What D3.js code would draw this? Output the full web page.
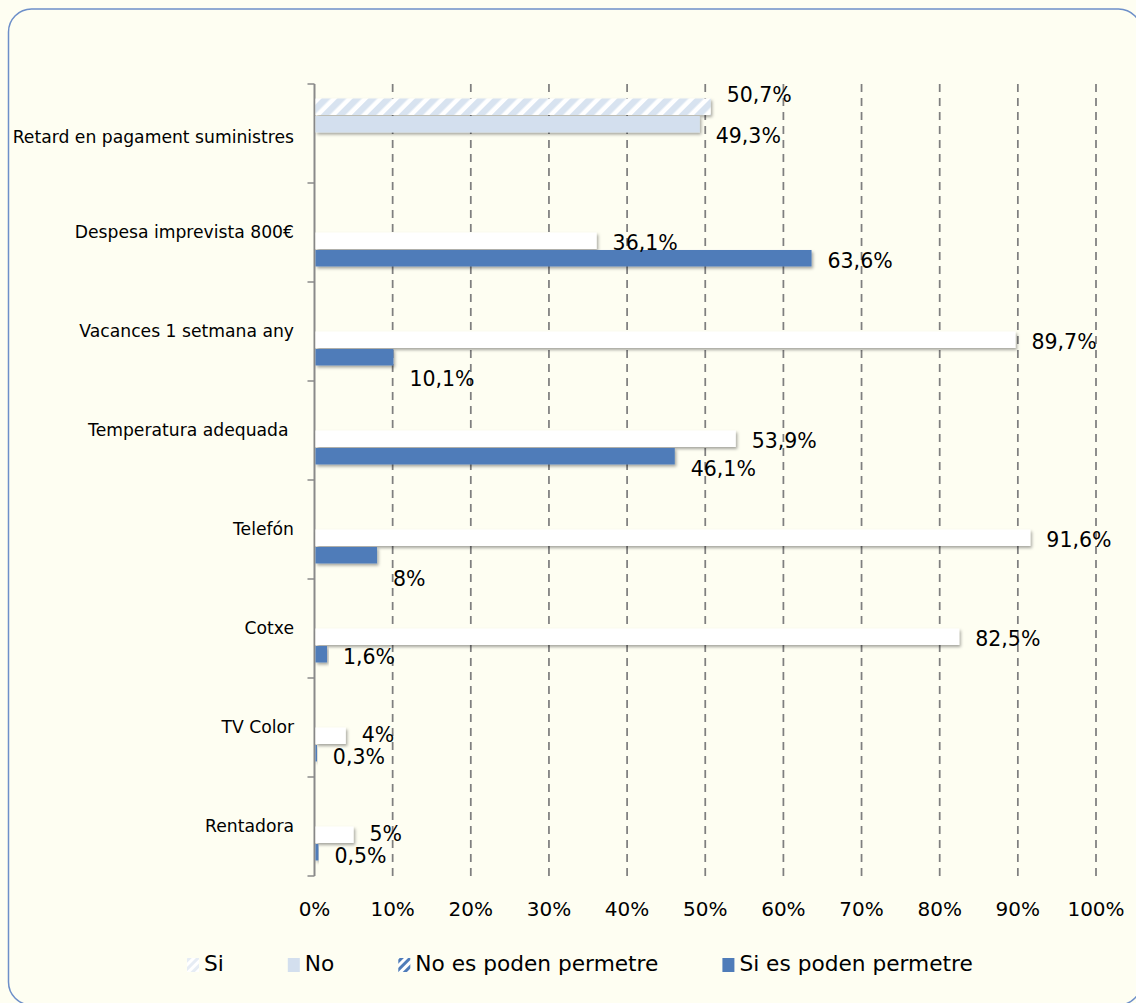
<!DOCTYPE html>
<html>
<head>
<meta charset="utf-8">
<script src="https://cdn.jsdelivr.net/npm/d3@7"></script>
<style>
  html, body { margin: 0; padding: 0; background: #fefef2; }
  svg { display: block; }
</style>
</head>
<body>
<svg id="chart" width="1136" height="1003"></svg>
<script>
// data
var categories = ["Retard en pagament suministres", "Despesa imprevista 800€", "Vacances 1 setmana any",
    "Temperatura adequada ", "Telefón", "Cotxe", "TV Color", "Rentadora"];
var seriesNames = ["Si", "No", "No es poden permetre", "Si es poden permetre"];
var si = [50.7, null, null, null, null, null, null, null];
var no = [49.3, null, null, null, null, null, null, null];
var noPoden = [null, 36.1, 89.7, 53.9, 91.6, 82.5, 4, 5];
var siPoden = [null, 63.6, 10.1, 46.1, 8, 1.6, 0.3, 0.5];
var xTicks = [0, 10, 20, 30, 40, 50, 60, 70, 80, 90, 100];

var seriesValues = [si, no, noPoden, siPoden];

var svg = d3.select("#chart"),
    width = +svg.attr("width"),
    height = +svg.attr("height");

var fills = {
    "Si": "url(#hatchLight)",
    "No": "#d3dfee",
    "No es poden permetre": "#ffffff",
    "Si es poden permetre": "#4f7cb9"
};
var legendFills = {
    "Si": "url(#hatchPale)",
    "No": "#d3dfee",
    "No es poden permetre": "url(#hatchBlue)",
    "Si es poden permetre": "#4f7cb9"
};

var defs = svg.append("defs");

function hatch(id, bg, fg, size, w) {
    var p = defs.append("pattern")
        .attr("id", id)
        .attr("patternUnits", "userSpaceOnUse")
        .attr("width", size)
        .attr("height", size)
        .attr("patternTransform", "rotate(45)");
    p.append("rect").attr("width", size).attr("height", size).attr("fill", bg);
    p.append("rect").attr("width", w).attr("height", size).attr("fill", fg);
}
hatch("hatchLight", "#ffffff", "#d8e3f0", 11, 6.5);
hatch("hatchPale", "#ffffff", "#e6ecf4", 6, 3);
hatch("hatchBlue", "#ffffff", "#4f7cb9", 6, 3);

var shadow = defs.append("filter")
    .attr("id", "shadow")
    .attr("x", "-5%").attr("y", "-30%")
    .attr("width", "120%").attr("height", "180%");
shadow.append("feDropShadow")
    .attr("dx", 1.5).attr("dy", 2)
    .attr("stdDeviation", 1.5)
    .attr("flood-color", "#000")
    .attr("flood-opacity", 0.35);

// frame
svg.append("rect")
    .attr("x", 8.5).attr("y", 9)
    .attr("width", 1133).attr("height", 996)
    .attr("rx", 23).attr("ry", 23)
    .attr("fill", "#fefef2")
    .attr("stroke", "#6d8fc9")
    .attr("stroke-width", 1.5);

var x = d3.scaleLinear().domain([0, 100]).range([314.5, 1096]);
var y0 = d3.scaleBand().domain(categories).range([84, 876]).padding(0);
var y1 = d3.scaleBand().domain(seriesNames).range([0, y0.bandwidth()]).paddingOuter(0.83).paddingInner(0);

// gridlines
svg.append("g")
    .selectAll("line")
    .data(xTicks.filter(function (d) { return d > 0; }))
    .enter().append("line")
    .attr("x1", function (d) { return x(d); })
    .attr("x2", function (d) { return x(d); })
    .attr("y1", 84)
    .attr("y2", 880)
    .attr("stroke", "#7f7f7f")
    .attr("stroke-width", 1.75)
    .attr("stroke-dasharray", "8,6");

// x tick labels
svg.append("g")
    .selectAll("text")
    .data(xTicks)
    .enter().append("text")
    .attr("x", function (d) { return x(d); })
    .attr("y", 910)
    .attr("text-anchor", "middle")
    .attr("dominant-baseline", "middle")
    .style("font-family", "DejaVu Sans")
    .style("font-size", "20px")
    .style("fill", "#000")
    .text(function (d) { return d + "%"; });

// category axis
var yAxis = svg.append("g")
    .attr("transform", "translate(" + x(0) + ",0)")
    .call(d3.axisLeft(y0).tickSize(0).tickFormat(""));
yAxis.select(".domain").remove();
yAxis.append("line")
    .attr("y1", 84).attr("y2", 876)
    .attr("stroke", "#8a8a8a").attr("stroke-width", 2);
yAxis.selectAll(".edge")
    .data(d3.range(categories.length + 1))
    .enter().append("line")
    .attr("class", "edge")
    .attr("x1", -7).attr("x2", 0)
    .attr("y1", function (i) { return 84 + i * y0.step(); })
    .attr("y2", function (i) { return 84 + i * y0.step(); })
    .attr("stroke", "#8a8a8a").attr("stroke-width", 1.5);

svg.append("g")
    .selectAll("text")
    .data(categories)
    .enter().append("text")
    .attr("x", 294)
    .attr("y", function (d, i) { return y0(d) + y0.bandwidth() / 2 + (i === 0 ? 4 : 0); })
    .attr("text-anchor", "end")
    .attr("dominant-baseline", "middle")
    .style("font-family", "DejaVu Sans")
    .style("font-size", "17.2px")
    .style("fill", "#000")
    .style("white-space", "pre")
    .text(function (d) { return d; });

// flat list of bars
var bars = [];
categories.forEach(function (c, i) {
    seriesNames.forEach(function (s, j) {
        var v = seriesValues[j][i];
        if (v != null) bars.push({ category: c, series: s, value: v });
    });
});

svg.append("g")
    .selectAll("rect")
    .data(bars)
    .enter().append("rect")
    .attr("x", x(0) + 1)
    .attr("y", function (d) { return y0(d.category) + y1(d.series); })
    .attr("width", function (d) { return Math.max(1.5, x(d.value) - x(0) - 1); })
    .attr("height", y1.bandwidth() - 1)
    .attr("fill", function (d) { return fills[d.series]; })
    .attr("filter", "url(#shadow)");

// value labels, a few are nudged like in the original
var labelNudge = {
    "Retard en pagament suministres|Si": -14,
    "Retard en pagament suministres|No": 9,
    "Vacances 1 setmana any|Si es poden permetre": 19,
    "Temperatura adequada |Si es poden permetre": 10,
    "Telefón|Si es poden permetre": 21,
    "TV Color|No es poden permetre": -3,
    "TV Color|Si es poden permetre": 1,
    "Rentadora|No es poden permetre": -3,
    "Rentadora|Si es poden permetre": 1
};

svg.append("g")
    .selectAll("text")
    .data(bars)
    .enter().append("text")
    .attr("x", function (d) { return x(d.value) + 16; })
    .attr("y", function (d) {
        var n = labelNudge[d.category + "|" + d.series] || 0;
        return y0(d.category) + y1(d.series) + y1.bandwidth() / 2 + 3 + n;
    })
    .attr("dominant-baseline", "middle")
    .style("font-family", "DejaVu Sans")
    .style("font-size", "20.5px")
    .style("fill", "#000")
    .text(function (d) { return String(d.value).replace(".", ",") + "%"; });

// legend
var legend = svg.append("g");
var lx = 187;
seriesNames.forEach(function (s) {
    legend.append("rect")
        .attr("x", lx).attr("y", 958)
        .attr("width", 12).attr("height", 14)
        .attr("fill", legendFills[s]);
    var t = legend.append("text")
        .attr("x", lx + 17)
        .attr("y", 965)
        .attr("dominant-baseline", "middle")
        .style("font-family", "DejaVu Sans")
        .style("font-size", "21.7px")
        .style("fill", "#000")
        .text(s);
    lx += 17 + t.node().getComputedTextLength() + 64;
});
</script>
</body>
</html>
